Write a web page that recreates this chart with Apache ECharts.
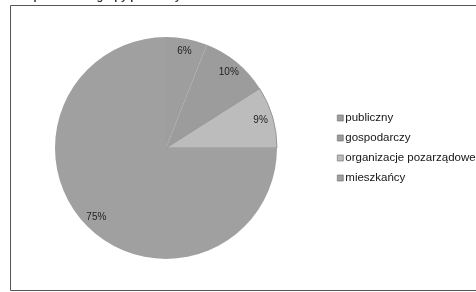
<!DOCTYPE html>
<html><head><meta charset="utf-8">
<script src="https://cdn.jsdelivr.net/npm/echarts@6/dist/echarts.min.js"></script>
<style>html,body{margin:0;padding:0;background:#fff}#c{width:476px;height:292px}</style>
</head><body><div id="c"></div>
<script>
const categories = ['publiczny', 'gospodarczy', 'organizacje pozarządowe', 'mieszkańcy'];
const values = [6, 10, 9, 75];
const sliceColors = ['#9e9e9e', '#9c9c9c', '#bcbcbc', '#a0a0a0'];

const data = categories.map((n, i) => ({
  name: n, value: values[i],
  itemStyle: i === 2 ? {color: sliceColors[i], borderColor: '#8a8a8a', borderWidth: 0.8} : {color: sliceColors[i]}
}));
const chart = echarts.init(document.getElementById('c'), null, {renderer: 'canvas'});
chart.setOption({
  animation: false,
  backgroundColor: '#fff',
  graphic: [
    {type: 'rect', shape: {x: 10.5, y: 5.5, width: 480, height: 285}, style: {fill: 'none', stroke: '#555', lineWidth: 1}},
    {type: 'text', left: 22, top: -9, style: {text: 'w podziale na grupy pozostałych sektorów', font: 'bold 11px "Liberation Sans"', fill: '#333'}}
  ],
  legend: {
    orient: 'vertical', left: 332, top: 107,
    itemWidth: 6, itemHeight: 6, itemGap: 8,
    icon: 'rect',
    itemStyle: {borderColor: '#666', borderWidth: 0.6},
    textStyle: {fontFamily: 'Liberation Sans', fontSize: 11.5, color: '#151515', padding: [0, 0, 0, -3]},
    data: categories
  },
  series: [
    {
      type: 'pie', center: [166, 148], radius: [0, 111], startAngle: 90, clockwise: true,
      label: {show: false}, labelLine: {show: false},
      emphasis: {disabled: true},
      data: data
    },
    {
      type: 'pie', center: [166, 148], radius: [80, 111], startAngle: 90, clockwise: true, silent: true,
      itemStyle: {color: 'rgba(0,0,0,0)'},
      label: {show: true, position: 'inside', formatter: '{c}%', fontFamily: 'Liberation Sans', fontSize: 10, color: '#222'},
      labelLine: {show: false},
      emphasis: {disabled: true},
      legendHoverLink: false,
      data: categories.map((n, i) => ({name: n, value: values[i]}))
    }
  ]
});
</script></body></html>
